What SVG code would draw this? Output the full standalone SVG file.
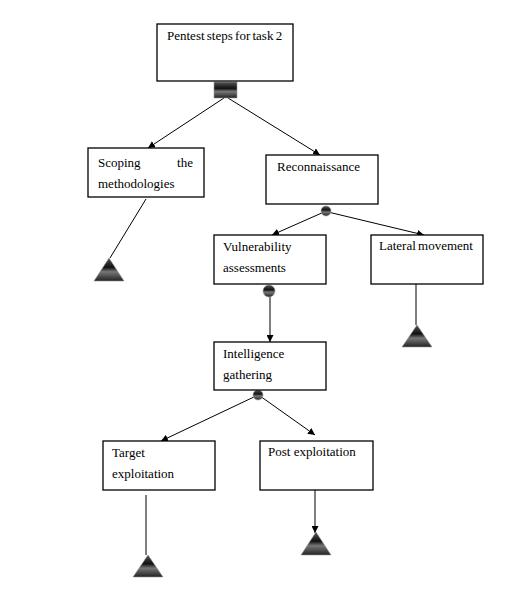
<svg xmlns="http://www.w3.org/2000/svg" width="506" height="611" viewBox="0 0 506 611">
<defs>
<linearGradient id="g" x1="0" y1="0" x2="0" y2="1">
<stop offset="0" stop-color="#555"/>
<stop offset="0.4" stop-color="#111"/>
<stop offset="0.6" stop-color="#777"/>
<stop offset="1" stop-color="#222"/>
</linearGradient>
<marker id="arr" viewBox="0 0 10 10" refX="10" refY="5" markerWidth="7" markerHeight="7" orient="auto" markerUnits="userSpaceOnUse">
<path d="M0,0 L10,5 L0,10 z" fill="#000"/>
</marker>
</defs>
<style>
.box{fill:#fff;stroke:#000;stroke-width:1.3}
.t{font-family:"Liberation Serif","Times New Roman",serif;font-size:13px;fill:#000}
.c{stroke:#000;stroke-width:1;fill:none}
.j{fill:url(#g);stroke:#999;stroke-width:0.6}
</style>
<rect width="506" height="611" fill="#fff"/>
<g id="connectors">
<line class="c" x1="224" y1="98" x2="148" y2="148" marker-end="url(#arr)"/>
<line class="c" x1="228" y1="98" x2="320" y2="155" marker-end="url(#arr)"/>
<line class="c" x1="146" y1="199" x2="110" y2="258"/>
<line class="c" x1="324" y1="212" x2="272" y2="235" marker-end="url(#arr)"/>
<line class="c" x1="328" y1="212" x2="424" y2="235" marker-end="url(#arr)"/>
<line class="c" x1="416" y1="284" x2="416" y2="325"/>
<line class="c" x1="270" y1="296" x2="270" y2="342" marker-end="url(#arr)" stroke="#444"/>
<line class="c" x1="256" y1="396" x2="161" y2="441" marker-end="url(#arr)"/>
<line class="c" x1="260" y1="396" x2="315" y2="435" marker-end="url(#arr)"/>
<line class="c" x1="146" y1="495" x2="146" y2="555" stroke="#666" stroke-width="1.5"/>
<line class="c" x1="315" y1="490" x2="315" y2="533" marker-end="url(#arr)"/>
</g>
<g id="joints">
<rect class="j" x="214" y="82" width="23" height="16"/>
<circle class="j" cx="326" cy="211" r="5"/>
<circle class="j" cx="269" cy="291" r="6"/>
<circle class="j" cx="258" cy="395" r="5"/>
</g>
<g id="n-top">
<rect class="box" x="157" y="24" width="136" height="57"/>
<text class="t" x="167" y="40" word-spacing="-1">Pentest steps for task 2</text>
</g>
<g id="n-scoping">
<rect class="box" x="88" y="148" width="116" height="49"/>
<text class="t" x="98" y="167">Scoping</text>
<text class="t" x="193" y="167" text-anchor="end">the</text>
<text class="t" x="98" y="188">methodologies</text>
</g>
<g id="n-recon">
<rect class="box" x="266" y="155" width="112" height="49"/>
<text class="t" x="277" y="171">Reconnaissance</text>
</g>
<g id="n-vuln">
<rect class="box" x="214" y="235" width="112" height="49"/>
<text class="t" x="223" y="251">Vulnerability</text>
<text class="t" x="223" y="272">assessments</text>
</g>
<g id="n-lateral">
<rect class="box" x="371" y="235" width="112" height="49"/>
<text class="t" x="379" y="250" word-spacing="-1">Lateral movement</text>
</g>
<g id="n-intel">
<rect class="box" x="214" y="342" width="112" height="48"/>
<text class="t" x="223" y="358">Intelligence</text>
<text class="t" x="223" y="379">gathering</text>
</g>
<g id="n-target">
<rect class="box" x="103" y="441" width="112" height="49"/>
<text class="t" x="112" y="457">Target</text>
<text class="t" x="112" y="478">exploitation</text>
</g>
<g id="n-post">
<rect class="box" x="260" y="441" width="113" height="49"/>
<text class="t" x="268" y="456">Post exploitation</text>
</g>
<g id="terminals">
<polygon class="j" points="109,258 94,281 124,281"/>
<polygon class="j" points="417,325 402,347 432,347"/>
<polygon class="j" points="148,555 133,577 163,577"/>
<polygon class="j" points="316,532 301,555 331,555"/>
</g>
</svg>
